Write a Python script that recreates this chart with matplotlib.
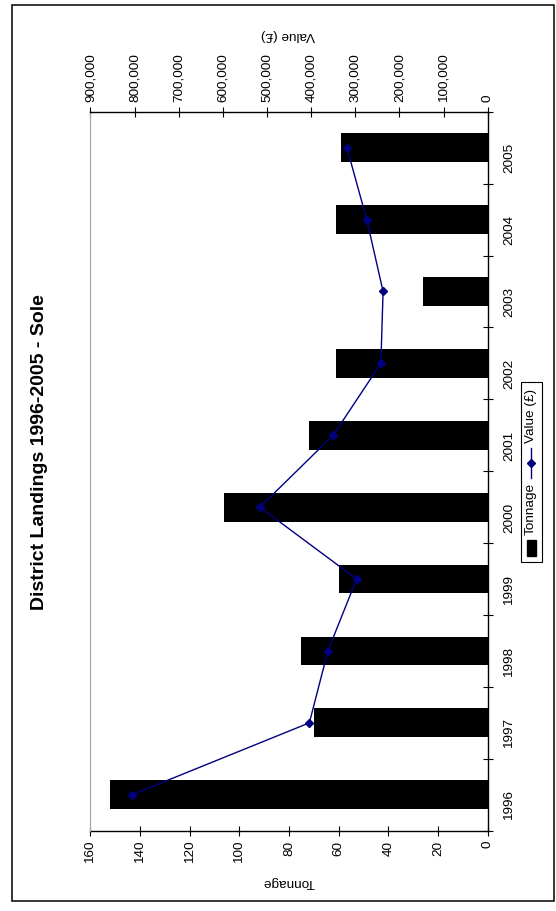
import numpy as np
import matplotlib
matplotlib.use('Agg')
import matplotlib.pyplot as plt
from matplotlib.patches import Rectangle
from matplotlib.lines import Line2D
from matplotlib.ticker import FuncFormatter

years = ['1996', '1997', '1998', '1999', '2000', '2001', '2002', '2003', '2004', '2005']
tonnage = [152, 70, 75, 60, 106, 72, 61, 26, 61, 59]
value = [806000, 404000, 362000, 297000, 516000, 350000, 242000, 237000, 274000, 319000]

title = 'District Landings 1996-2005 - Sole'

plt.rcParams['font.family'] = ['Liberation Sans', 'DejaVu Sans']

W, H = 556, 911
fig = plt.figure(figsize=(W / 100, H / 100), dpi=100)


def box(x0, y0, x1, y1):
    # pixel box (y down) -> figure fraction
    return [x0 / W, 1 - y1 / H, (x1 - x0) / W, (y1 - y0) / H]


ax = fig.add_axes(box(90.4, 111.7, 487.7, 830.7))
pos = np.arange(len(years))
ax.barh(pos, tonnage, height=0.4, color='black', zorder=2)
ax.set_xlim(160, 0)
ax.set_ylim(-0.5, len(years) - 0.5)
ax.set_xticks(np.arange(0, 161, 20))
ax.tick_params(axis='x', direction='inout', length=6.5, width=0.8,
               labelsize=9.7, labelrotation=90, pad=4)

# category axis on the right, ticks between years
ax.yaxis.tick_right()
ax.set_yticks(np.arange(-0.5, len(years), 1))
ax.set_yticklabels([])
ax.set_yticks(pos, minor=True)
ax.set_yticklabels(years, minor=True)
ax.tick_params(axis='y', which='major', direction='inout', length=6.5, width=0.8)
ax.tick_params(axis='y', which='minor', length=0, labelsize=9.7,
               labelrotation=90, pad=11)

for s in ['bottom', 'right']:
    ax.spines[s].set_linewidth(1.0)
ax.spines['left'].set_color('#a6a6a6')
ax.spines['top'].set_visible(False)

# value line on its own (top) axis
ax2 = ax.twiny()
ax2.plot(value, pos, color='#000080', lw=1.0, marker='D', ms=4,
         mfc='#000080', mec='#000080', zorder=3)
ax2.set_xlim(900000, 0)
ax2.set_xticks(np.arange(0, 900001, 100000))
ax2.xaxis.set_major_formatter(FuncFormatter(lambda v, p: f'{v:,.0f}'))
ax2.tick_params(axis='x', direction='inout', length=6.5, width=0.8,
                labelsize=9.7, labelrotation=90, pad=4)
ax2.spines['top'].set_linewidth(1.0)
ax2.spines['left'].set_color('#a6a6a6')
ax2.spines['right'].set_visible(False)
ax2.spines['bottom'].set_visible(False)

# overlay in pixel coordinates for frame, titles and legend
ov = fig.add_axes([0, 0, 1, 1], zorder=5)
ov.set_xlim(0, W)
ov.set_ylim(H, 0)
ov.axis('off')
ov.patch.set_alpha(0)

ov.add_patch(Rectangle((12.3, 5), 541.5, 895.7, fill=False, lw=1.1, ec='black'))
ov.text(40, 452, title, rotation=90, ha='center', va='center',
        fontsize=14, fontweight='bold')
ov.text(289, 882, 'Tonnage', rotation=180, ha='center', va='center', fontsize=9.7)
ov.text(288, 35, 'Value (£)', rotation=180, ha='center', va='center', fontsize=9.7)

# legend
ov.add_patch(Rectangle((520.5, 382), 21, 180, fill=False, lw=0.8, ec='black'))
ov.add_patch(Rectangle((526.5, 540), 9, 16, color='black'))
ov.text(531, 535, 'Tonnage', rotation=90, ha='center', va='bottom', fontsize=9.7)
ov.add_line(Line2D([531, 531], [478, 448], color='#000080', lw=1.0))
ov.add_line(Line2D([531], [463], color='#000080', marker='D', ms=4))
ov.text(531, 443, 'Value (£)', rotation=90, ha='center', va='bottom', fontsize=9.7)

fig.savefig('out.png', dpi=100)
